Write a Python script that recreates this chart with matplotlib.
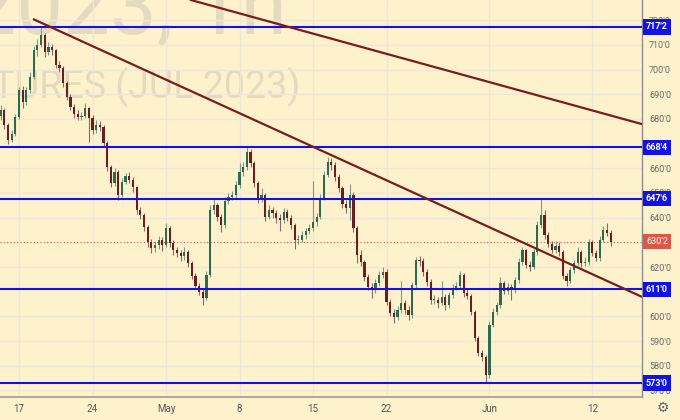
import numpy as np
import matplotlib.pyplot as plt
import matplotlib.transforms as mtransforms
from matplotlib.ticker import FuncFormatter

# ZW July 2023, 6h-ish bars, x = trading-day index (0 = Apr 17)
close = [683.6, 677.5, 671.5, 673.9, 680.8, 691.7, 686.9, 691.7, 697.0, 707.9,
         710.0, 714.0, 707.1, 709.2, 707.9, 701.9, 700.6, 694.6, 688.9, 684.8,
         682.0, 680.8, 681.2, 684.4, 680.4, 675.5, 677.5, 676.7, 670.2, 660.5,
         654.0, 658.5, 649.2, 654.5, 656.9, 655.3, 652.4, 643.1, 641.1, 636.2,
         630.1, 627.7, 628.9, 630.9, 628.9, 635.8, 629.7, 626.9, 625.6, 624.5,
         626.1, 621.6, 616.4, 612.3, 609.9, 607.4, 616.8, 643.1, 645.1, 640.3,
         637.0, 646.8, 648.4, 649.2, 653.2, 658.5, 660.5, 666.6, 662.1, 654.0,
         647.6, 649.2, 640.3, 643.1, 641.9, 639.9, 639.0, 642.3, 639.9, 637.0,
         630.9, 630.9, 632.9, 634.6, 635.8, 638.2, 640.3, 648.0, 657.3, 662.5,
         661.3, 656.5, 652.0, 645.5, 643.9, 649.2, 635.8, 624.9, 622.0, 615.9,
         611.9, 610.7, 613.5, 616.8, 618.0, 605.8, 601.4, 599.7, 602.6, 605.4,
         602.6, 600.6, 612.7, 622.8, 622.4, 618.0, 613.9, 606.6, 606.6, 605.4,
         607.8, 604.6, 608.7, 611.5, 612.3, 616.8, 609.5, 608.3, 601.8, 591.2,
         585.2, 583.5, 576.2, 596.5, 601.8, 604.6, 613.5, 610.3, 611.9, 610.7,
         614.7, 622.0, 626.9, 620.8, 620.0, 626.1, 637.0, 641.1, 632.9, 629.3,
         626.9, 628.5, 626.1, 616.4, 614.3, 618.8, 621.6, 626.1, 621.6, 622.0,
         630.1, 625.7, 623.6, 630.9, 635.0, 633.8, 630.25]

high = [685.5, 684.5, 678.5, 675.5, 682.0, 693.0, 693.5, 693.0, 699.0, 709.5,
        712.5, 717.25, 715.0, 711.0, 710.5, 708.5, 703.5, 701.5, 695.5, 690.0,
        686.0, 683.5, 683.0, 686.5, 685.0, 681.5, 679.5, 679.0, 677.5, 671.0,
        661.5, 660.0, 659.5, 656.0, 658.0, 658.5, 656.5, 653.0, 644.5, 642.0,
        637.0, 631.5, 630.5, 632.5, 632.0, 638.0, 636.5, 631.0, 628.0, 627.0,
        628.0, 627.0, 622.5, 617.5, 613.5, 611.0, 618.5, 645.0, 647.5, 646.0,
        641.5, 648.5, 650.0, 651.0, 655.0, 662.0, 662.5, 668.5, 668.0, 663.0,
        655.0, 652.0, 650.0, 645.0, 644.5, 643.0, 641.5, 644.0, 643.5, 641.0,
        638.0, 633.0, 634.5, 636.0, 637.5, 655.0, 642.0, 649.5, 659.0, 664.5,
        664.0, 662.5, 657.5, 653.0, 647.0, 653.5, 650.5, 636.5, 627.0, 623.0,
        617.0, 613.5, 615.0, 618.5, 620.0, 619.0, 607.0, 603.0, 604.0, 614.5,
        606.5, 604.0, 614.0, 624.0, 624.5, 623.5, 619.0, 615.0, 608.5, 608.0,
        614.5, 609.0, 610.0, 613.0, 614.0, 618.5, 617.5, 611.0, 609.0, 602.5,
        592.0, 586.5, 584.5, 598.0, 603.5, 606.0, 616.0, 614.5, 613.5, 613.0,
        616.0, 623.5, 628.0, 627.5, 622.5, 627.5, 638.5, 647.75, 643.0, 634.0,
        630.5, 630.5, 630.0, 627.0, 617.5, 620.0, 623.0, 628.0, 627.0, 624.0,
        631.5, 631.0, 627.0, 632.5, 636.5, 638.0, 635.0]

low = [679.5, 676.0, 670.0, 670.5, 673.0, 680.0, 684.5, 685.5, 690.5, 696.0,
       705.5, 709.0, 705.0, 706.0, 706.0, 700.5, 699.0, 693.0, 687.5, 683.5,
       680.5, 679.5, 679.5, 680.5, 670.5, 674.0, 674.5, 675.0, 668.5, 659.0,
       652.5, 653.0, 647.0, 648.5, 653.5, 654.0, 650.5, 641.5, 639.5, 634.5,
       628.0, 625.5, 626.0, 627.5, 626.5, 628.0, 628.0, 625.0, 624.0, 622.5,
       623.0, 620.0, 615.0, 611.0, 608.5, 604.5, 606.5, 616.0, 641.5, 638.5,
       634.0, 636.0, 645.5, 647.0, 648.0, 652.0, 657.0, 659.5, 660.5, 652.5,
       646.0, 646.5, 638.5, 639.5, 640.0, 638.0, 634.5, 638.0, 638.5, 635.5,
       627.5, 629.5, 630.0, 631.5, 633.5, 634.5, 636.5, 639.5, 647.0, 656.5,
       659.5, 655.0, 650.5, 644.0, 642.0, 639.0, 634.0, 621.5, 620.5, 614.5,
       610.5, 607.5, 609.5, 612.5, 615.5, 604.5, 600.0, 597.5, 598.5, 601.5,
       601.0, 598.5, 599.5, 611.5, 620.5, 616.5, 612.5, 605.0, 605.0, 603.5,
       604.5, 602.5, 603.5, 607.5, 610.5, 611.5, 608.0, 607.0, 600.5, 590.0,
       584.0, 582.0, 573.0, 575.0, 595.5, 600.5, 603.5, 609.0, 609.0, 606.5,
       609.5, 613.5, 621.0, 619.5, 618.5, 619.0, 625.0, 636.0, 631.5, 628.0,
       625.5, 625.5, 624.5, 615.0, 612.5, 613.5, 617.5, 620.5, 620.0, 620.5,
       621.0, 624.5, 622.5, 622.5, 630.0, 632.5, 628.5]

first_open = 681.0
first_bar_day = -1.25
bars_per_day = 4

levels = [717.25, 668.5, 647.75, 611.0, 573.0]
level_labels = ["717'2", "668'4", "647'6", "611'0", "573'0"]
last_price = 630.25
last_label = "630'2"

day_ticks = [0, 5, 10, 15, 20, 25, 32, 39]
day_labels = ['17', '24', 'May', '8', '15', '22', 'Jun', '12']
# labels fully hidden behind the price boxes are left out
price_ticks = [570, 580, 590, 600, 620, 640, 650, 660, 680, 690, 700, 710, 720]

trend_upper = [(11.5, 728.5), (42.38, 677.9)]
trend_lower = [(0.95, 720.5), (42.38, 607.9)]

BG = '#FEF2CD'
GRID = '#EEE6D6'
BLUE = '#1212E8'
TREND = '#7A1C1C'
UP = '#2C6B50'
DOWN = '#6A1E1E'
LASTRED = '#DC5846'
WATER = '#E4DABD'

fig = plt.figure(figsize=(6.8, 4.2), dpi=100)
fig.patch.set_facecolor(BG)
ax = fig.add_axes([0, 23 / 420, 642 / 680, 397 / 420])
ax.set_facecolor(BG)

# watermark
ax.text(287 / 642, 1 - 33 / 397, 'ZWN2023, 1h', transform=ax.transAxes,
        ha='right', va='baseline', fontsize=60, color=WATER,
        family='Roboto', clip_on=True, zorder=0)
ax.text(300 / 642, 1 - 98 / 397, 'WHEAT FUTURES (JUL 2023)', transform=ax.transAxes,
        ha='right', va='baseline', fontsize=27, color=WATER,
        family='Roboto', clip_on=True, zorder=0)

# candles
c = np.array(close)
o = np.array([first_open] + close[:-1])
h = np.array(high)
l = np.array(low)
x = first_bar_day + np.arange(len(c)) / bars_per_day
up = c >= o
ax.vlines(x[up], l[up], h[up], color='#7E9A88', lw=0.8, zorder=3)
ax.vlines(x[~up], l[~up], h[~up], color='#8E6A62', lw=0.8, zorder=3)
bh = np.maximum(np.abs(c - o), 0.4)
bb = np.minimum(c, o)
ax.bar(x[up], bh[up], bottom=bb[up], width=0.15, color=UP, lw=0, zorder=4)
ax.bar(x[~up], bh[~up], bottom=bb[~up], width=0.15, color=DOWN, lw=0, zorder=4)

# levels & trend lines
for lv in levels:
    ax.axhline(lv, color=BLUE, lw=1.5, zorder=5)
ax.axhline(last_price, color=LASTRED, lw=0.8, ls=(0, (1, 2)), zorder=2)
ax.axline(trend_upper[0], trend_upper[1], color=TREND, lw=1.6, zorder=6)
ax.plot([p[0] for p in trend_lower], [p[1] for p in trend_lower],
        color=TREND, lw=1.6, zorder=6, solid_capstyle='butt')

ax.set_xlim(-1.2925, 42.38)
ax.set_ylim(567.33, 728.19)

ax.set_xticks(day_ticks)
ax.set_xticklabels(day_labels)
ax.set_yticks(price_ticks)
ax.yaxis.set_major_formatter(FuncFormatter(lambda v, pos: f"{int(v)}'0"))
ax.yaxis.tick_right()
ax.tick_params(axis='y', length=0, pad=5, labelsize=6.5, labelcolor='#6A6A6A')
ax.tick_params(axis='x', length=0, pad=5, labelsize=7, labelcolor='#555555')
for t in ax.get_yticklabels() + ax.get_xticklabels():
    t.set_family('Roboto')
ax.grid(True, color=GRID, lw=1.0, zorder=1)
ax.set_axisbelow(True)

for s in ['top', 'left']:
    ax.spines[s].set_visible(False)
ax.spines['right'].set_color('#8C8C8C')
ax.spines['bottom'].set_color('#A39C88')
ax.spines['right'].set_linewidth(1.0)
ax.spines['bottom'].set_linewidth(1.2)

tr = mtransforms.blended_transform_factory(ax.transAxes, ax.transData)
for lv, lab in zip(levels, level_labels):
    ax.text(1 + 4 / 642, lv, lab, transform=tr, ha='left', va='center',
            color='white', fontsize=6.5, fontweight='bold', family='Roboto',
            bbox=dict(boxstyle='square,pad=0.35', fc=BLUE, ec='none'),
            clip_on=False, zorder=10)
ax.text(1 + 4 / 642, last_price, last_label, transform=tr, ha='left', va='center',
        color='white', fontsize=6.5, family='Roboto',
        bbox=dict(boxstyle='square,pad=0.35', fc=LASTRED, ec='none'),
        clip_on=False, zorder=10)

fig.text(663 / 680, 1 - 408 / 420, '\u2699', ha='center', va='center',
         fontsize=10, color='#666666')

fig.savefig('out.png', dpi=100, facecolor=BG)
